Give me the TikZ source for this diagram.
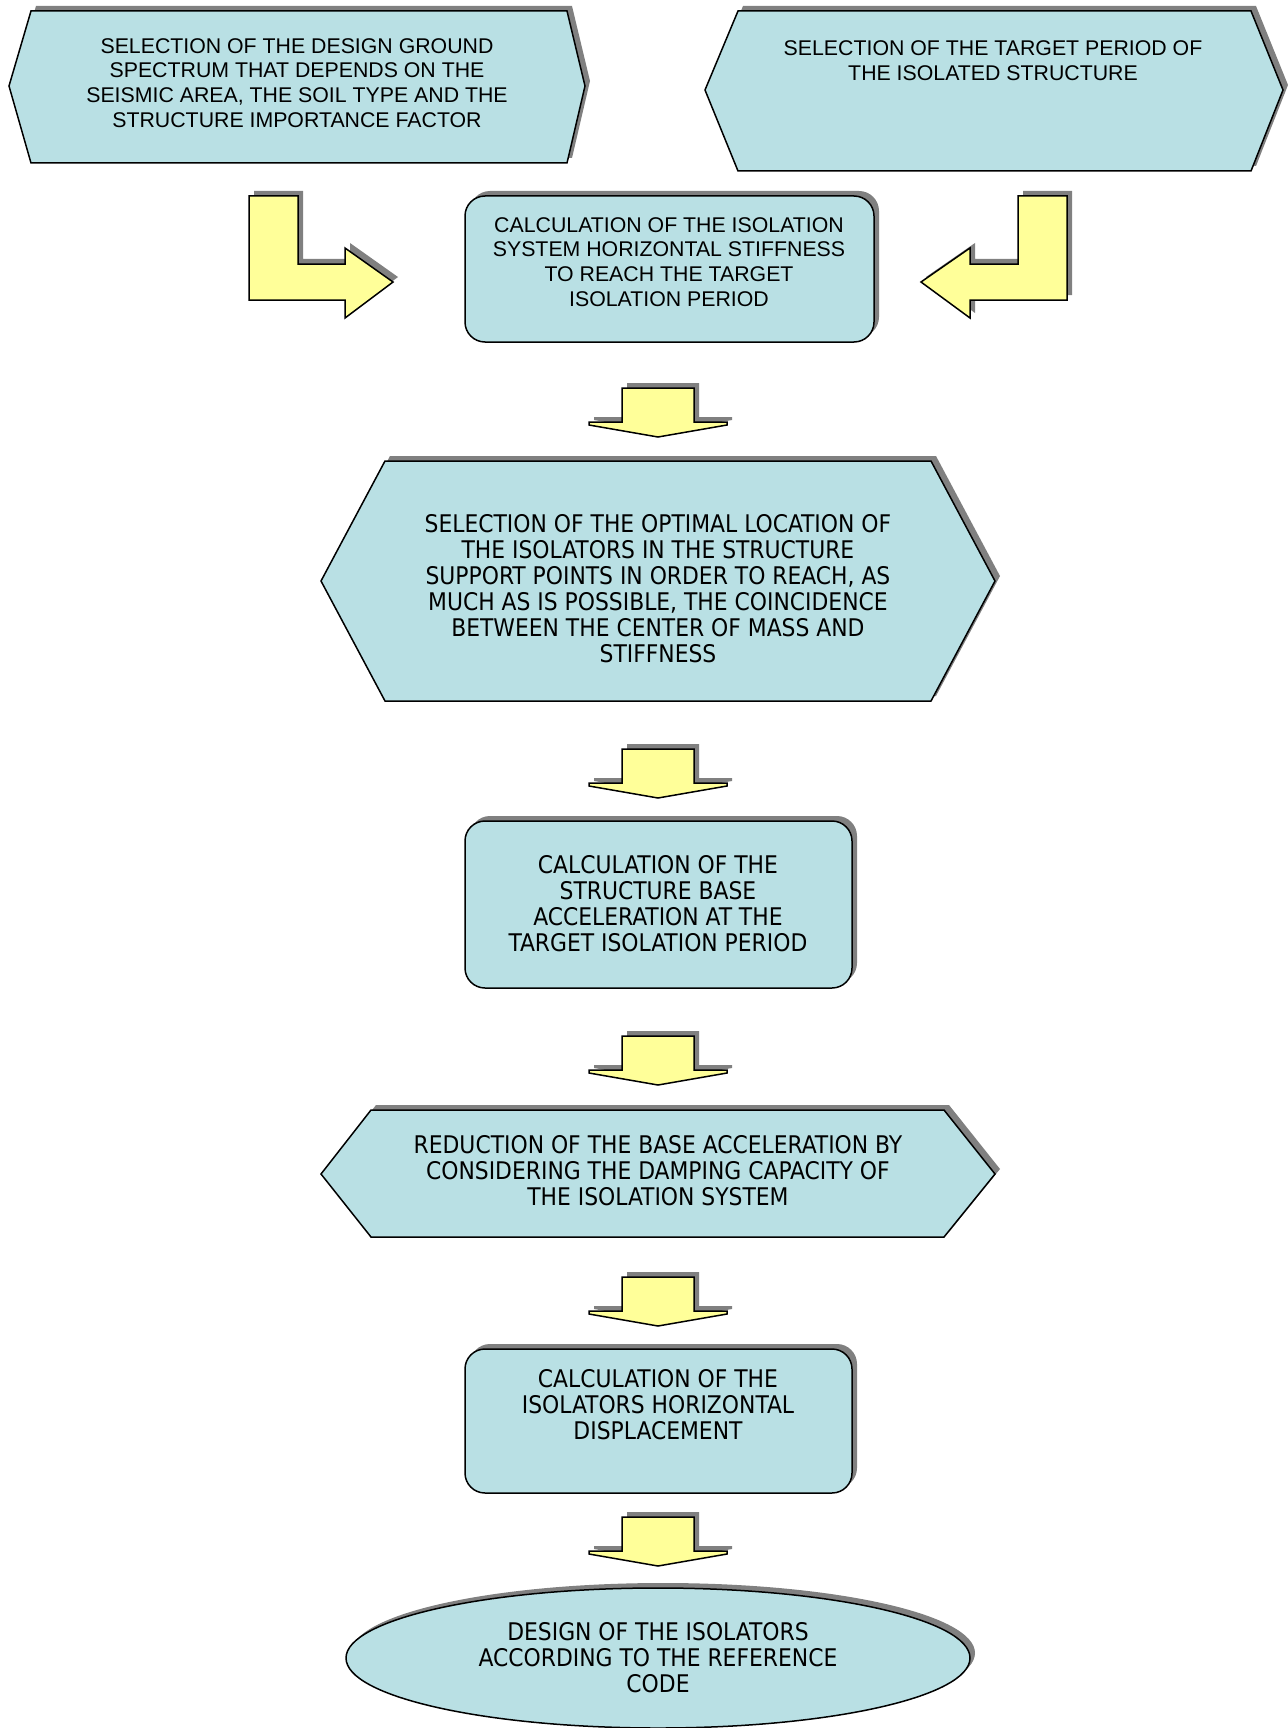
\documentclass[tikz,border=0pt]{standalone}
\usepackage{fontspec}
\setmainfont{Liberation Sans}
\newfontfamily\tahoma{DejaVu Sans Condensed}
\usepackage{tikz}
\usetikzlibrary{shadows}
\definecolor{boxblue}{RGB}{185,224,228}
\definecolor{arrowyellow}{RGB}{255,255,153}
\definecolor{shadowgray}{RGB}{128,128,128}

\begin{document}
\begin{tikzpicture}[x=1pt,y=-1pt,
	shade/.style={drop shadow={shadow xshift=5pt,shadow yshift=5pt,fill=shadowgray,opacity=1}},
	box/.style={fill=boxblue,draw=black,line width=1.5pt,line join=miter,shade},
	bigarrow/.style={fill=arrowyellow,draw=black,line width=1.5pt,line join=miter,shade},
	arialtext/.style={align=center,font=\fontsize{21.3}{24.8}\selectfont},
	tahomatext/.style={align=center,font=\tahoma\fontsize{24.3}{26}\selectfont}]
	\useasboundingbox (0,0) rectangle (1287,1728);
	% Draw the two starting hexagons
	\filldraw[box] (31,11) -- (567,11) -- (585,86) -- (567,163) -- (31,163) -- (9,86) -- cycle;
	\node[arialtext] (spectrum) at (297,83) {SELECTION OF THE DESIGN GROUND\\SPECTRUM THAT DEPENDS ON THE\\SEISMIC AREA, THE SOIL TYPE AND THE\\STRUCTURE IMPORTANCE FACTOR};
	\filldraw[box] (738,11) -- (1251,11) -- (1283,90) -- (1251,171) -- (738,171) -- (705,90) -- cycle;
	\node[arialtext] (target) at (993,61) {SELECTION OF THE TARGET PERIOD OF\\THE ISOLATED STRUCTURE};
	% Draw the two bent arrows
	\filldraw[bigarrow] (249,196) -- (298,196) -- (298,264) -- (345,264) -- (345,248) -- (393,282)
		-- (345,318) -- (345,300) -- (249,300) -- cycle;
	\filldraw[bigarrow] (1067,196) -- (1067,300) -- (970,300) -- (970,318) -- (921,282) -- (970,248)
		-- (970,264) -- (1018,264) -- (1018,196) -- cycle;
	% Stiffness box
	\filldraw[box,rounded corners=20pt] (465,196) rectangle (874,342);
	\node[arialtext] (stiffness) at (669,262) {CALCULATION OF THE ISOLATION\\SYSTEM HORIZONTAL STIFFNESS\\TO REACH THE TARGET\\ISOLATION PERIOD};
	% Location hexagon
	\filldraw[box] (385,461) -- (931,461) -- (995,581) -- (931,701) -- (385,701) -- (321,581) -- cycle;
	\node[tahomatext] (location) at (658,589) {SELECTION OF THE OPTIMAL LOCATION OF\\THE ISOLATORS IN THE STRUCTURE\\SUPPORT POINTS IN ORDER TO REACH, AS\\MUCH AS IS POSSIBLE, THE COINCIDENCE\\BETWEEN THE CENTER OF MASS AND\\STIFFNESS};
	% Base acceleration box
	\filldraw[box,rounded corners=20pt] (465,821) rectangle (852,988);
	\node[tahomatext] (baseaccel) at (658,904) {CALCULATION OF THE\\STRUCTURE BASE\\ACCELERATION AT THE\\TARGET ISOLATION PERIOD};
	% Reduction hexagon
	\filldraw[box] (371,1110) -- (944,1110) -- (995,1174) -- (944,1237) -- (371,1237) -- (321,1174) -- cycle;
	\node[tahomatext] (reduction) at (658,1171) {REDUCTION OF THE BASE ACCELERATION BY\\CONSIDERING THE DAMPING CAPACITY OF\\THE ISOLATION SYSTEM};
	% Displacement box
	\filldraw[box,rounded corners=20pt] (465,1349) rectangle (852,1493);
	\node[tahomatext] (displacement) at (658,1405) {CALCULATION OF THE\\ISOLATORS HORIZONTAL\\DISPLACEMENT};
	% Final ellipse
	\filldraw[box] (658,1658) ellipse [x radius=312, y radius=70];
	\node[tahomatext] (design) at (658,1658) {DESIGN OF THE ISOLATORS\\ACCORDING TO THE REFERENCE\\CODE};
	% Down arrows between the steps
	\foreach \y in {388,749,1036,1277,1517}
		\filldraw[bigarrow] (622,\y) -- (694,\y) -- (694,\y+34) -- (727,\y+34) -- (727,\y+37) -- (658,\y+49)
			-- (589,\y+37) -- (589,\y+34) -- (622,\y+34) -- cycle;
\end{tikzpicture}
\end{document}
